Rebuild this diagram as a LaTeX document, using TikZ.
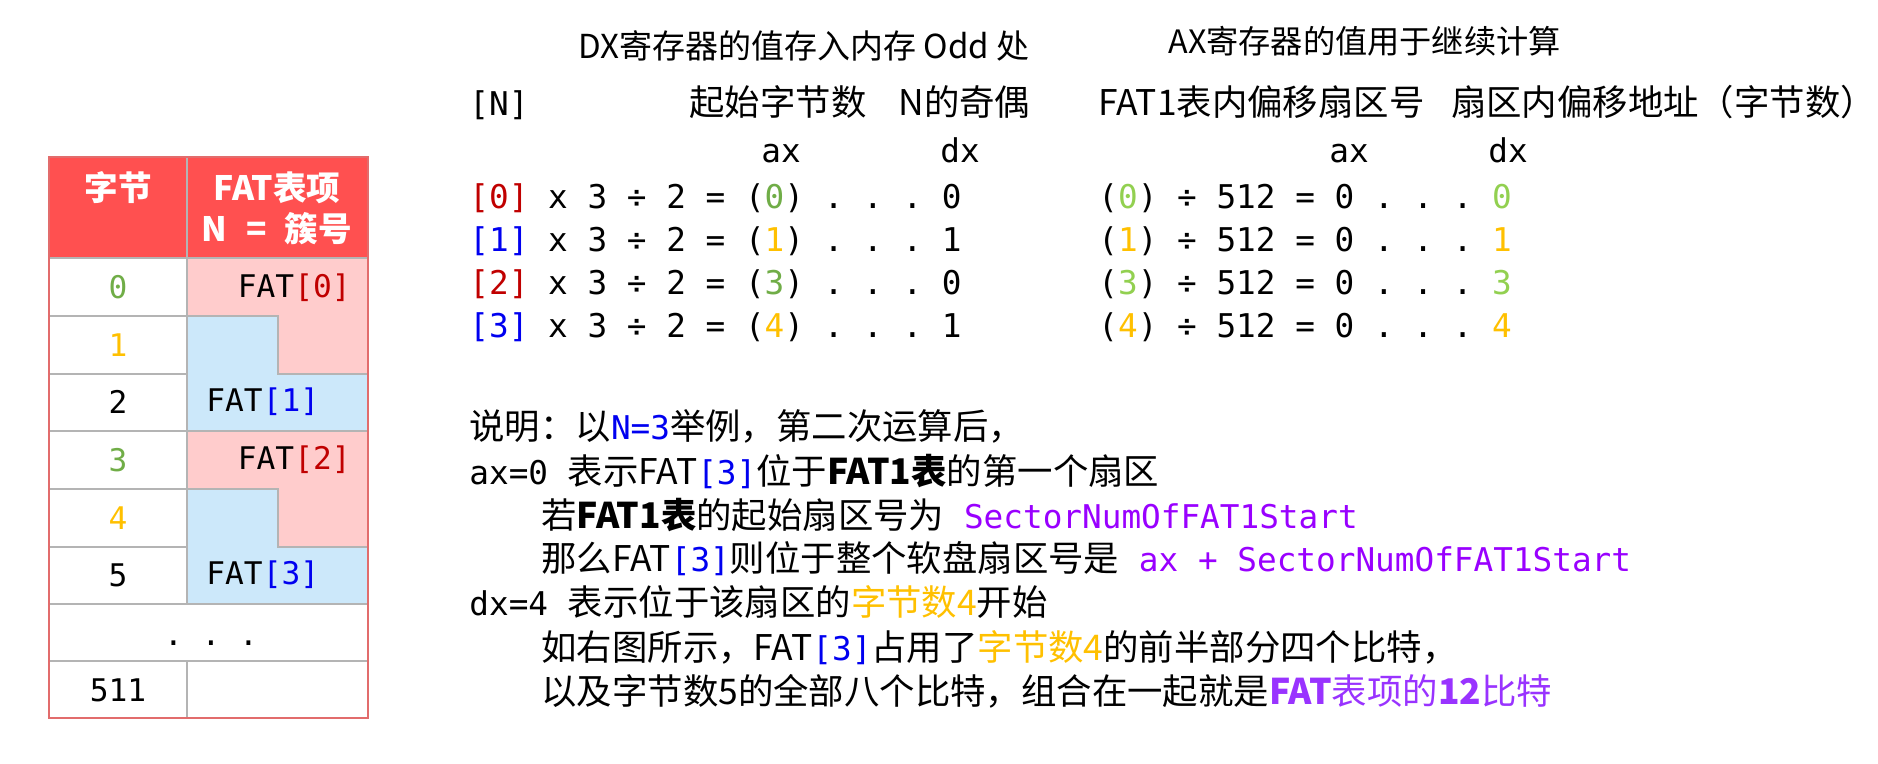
\documentclass[tikz,border=0pt]{standalone}
\usepackage{fontspec}
\setmainfont{Noto Sans CJK SC}
\setmonofont{DejaVu Sans Mono}
\definecolor{hdrcol}{RGB}{255, 80, 80}
\definecolor{pinkcol}{RGB}{255, 204, 204}
\definecolor{bluecol}{RGB}{204, 232, 250}
\definecolor{gridcol}{RGB}{180, 180, 180}
\definecolor{edgecol}{RGB}{226, 108, 108}
\definecolor{oddred}{RGB}{192, 0, 0}
\definecolor{evenblue}{RGB}{0, 0, 240}
\definecolor{grncol}{RGB}{112, 173, 71}
\definecolor{lgrncol}{RGB}{146, 208, 80}
\definecolor{goldcol}{RGB}{255, 192, 0}
\definecolor{purpcol}{RGB}{153, 0, 255}
\definecolor{lpurpcol}{RGB}{153, 51, 255}
\newcommand\tcode[1]{{\ttfamily\fontsize{16.35}{20}\selectfont #1}}
\tikzset{
  gridln/.style  = {draw=gridcol, line width=1.2pt},
  pinkbox/.style = {gridln, fill=pinkcol},
  bluebox/.style = {gridln, fill=bluecol},
  edge/.style    = {draw=edgecol, line width=1.2pt},
  hdrtxt/.style  = {text=white, inner sep=0pt,
                    font=\bfseries\fontsize{16.8}{20}\selectfont},
  cellnum/.style = {inner sep=0pt, font=\ttfamily\fontsize{15.6}{19}\selectfont},
  ttl/.style     = {anchor=base west, inner sep=0pt,
                    font=\fontsize{16.5}{21}\selectfont},
  cjk/.style     = {anchor=base west, inner sep=0pt,
                    font=\fontsize{17.7}{21}\selectfont},
  code/.style    = {anchor=base west, inner sep=0pt,
                    font=\ttfamily\fontsize{16.35}{20}\selectfont},
}

\begin{document}
\begin{tikzpicture}[x=0.5pt, y=-0.5pt]
  \useasboundingbox (0,0) rectangle (1878,764);

  %% ---------------- the FAT table ----------------
  \fill[hdrcol] (49,157) rectangle (368,258);
  \foreach \dy in {0,173} {
    \begin{scope}[shift={(0,\dy)}]
      \path[pinkbox] (187,258) -- (368,258) -- (368,374) -- (278,374)
                     -- (278,316) -- (187,316) -- cycle;
      \path[bluebox] (187,316) -- (278,316) -- (278,374) -- (368,374)
                     -- (368,431) -- (187,431) -- cycle;
    \end{scope}
  }
  \foreach \t in {258,316,374,431,489,547,604,661}
    \draw[gridln] (49,\t) -- (187,\t);
  \draw[gridln] (187,604) -- (368,604);
  \draw[gridln] (187,661) -- (368,661);
  \draw[gridln] (187,157) -- (187,604);
  \draw[gridln] (187,661) -- (187,718);
  \draw[edge] (49,157) rectangle (368,718);

  \node[hdrtxt] (hbyte) at (118,188) {字节};
  \node[hdrtxt] (hfat)  at (277,188) {FAT表项};
  \node[hdrtxt] (hclu)  at (277,229) {N\hspace{.55em}=\hspace{.55em}簇号};

  \foreach \v/\c/\y in {0/grncol/287, 1/goldcol/345, 2/black/402,
                        3/grncol/460, 4/goldcol/518, 5/black/575}
    \node[cellnum, text=\c] (b\v) at (118,\y) {\v};
  \node[cellnum, anchor=base] (bdots) at (211,645) {. . .};
  \node[cellnum] (b511) at (118,690) {511};

  \node[cellnum, anchor=east] (fat0) at (351,288) {FAT\textcolor{oddred}{[0]}};
  \node[cellnum, anchor=west] (fat1) at (206,402) {FAT\textcolor{evenblue}{[1]}};
  \node[cellnum, anchor=east] (fat2) at (351,460) {FAT\textcolor{oddred}{[2]}};
  \node[cellnum, anchor=west] (fat3) at (206,575) {FAT\textcolor{evenblue}{[3]}};

  %% ---------------- the two divisions ----------------
  \node[ttl] (dxttl) at (578,59) {DX寄存器的值存入内存 Odd 处};
  \node[ttl, font=\fontsize{16.1}{21}\selectfont] (axttl) at (1168,54)
       {AX寄存器的值用于继续计算};

  \node[code] (nhd)   at (469,116)  {[N]};
  \node[cjk]  (offhd) at (689,116)  {起始字节数};
  \node[cjk]  (parhd) at (898,116)  {N的奇偶};
  \node[cjk]  (sechd) at (1098,116)
       {FAT1表内偏移扇区号\hspace{.75em}扇区内偏移地址（字节数）};

  \node[code, anchor=base] (axl) at (781,163)  {ax};
  \node[code, anchor=base] (dxl) at (960,163)  {dx};
  \node[code, anchor=base] (axr) at (1349,163) {ax};
  \node[code, anchor=base] (dxr) at (1508,163) {dx};

  \foreach \n/\nc/\a/\ac/\d [count=\i] in {0/oddred/0/grncol/0,
      1/evenblue/1/goldcol/1, 2/oddred/3/grncol/0, 3/evenblue/4/goldcol/1}
    \node[code] (mul\i) at (469,{209+43*(\i-1)})
         {\textcolor{\nc}{[\n]} x 3 ÷ 2 = (\textcolor{\ac}{\a}) . . . \d};

  \foreach \a/\c [count=\i] in {0/lgrncol, 1/goldcol, 3/lgrncol, 4/goldcol}
    \node[code] (div\i) at (1098,{209+43*(\i-1)})
         {(\textcolor{\c}{\a}) ÷ 512 = 0 . . . \textcolor{\c}{\a}};

  %% ---------------- the note ----------------
  \node[cjk] (note1) at (469,439)
       {说明：以\tcode{\textcolor{evenblue}{N=3}}举例，第二次运算后，};
  \node[cjk] (note2) at (469,484)
       {\tcode{ax=0 }表示FAT\tcode{\textcolor{evenblue}{[3]}}位于\textbf{FAT1表}的第一个扇区};
  \node[cjk] (note3) at (541,528)
       {若\textbf{FAT1表}的起始扇区号为\tcode{ \textcolor{purpcol}{SectorNumOfFAT1Start}}};
  \node[cjk] (note4) at (541,571)
       {那么FAT\tcode{\textcolor{evenblue}{[3]}}则位于整个软盘扇区号是\tcode{ \textcolor{purpcol}{ax + SectorNumOfFAT1Start}}};
  \node[cjk] (note5) at (469,615)
       {\tcode{dx=4 }表示位于该扇区的\textcolor{goldcol}{字节数4}开始};
  \node[cjk] (note6) at (541,660)
       {如右图所示，FAT\tcode{\textcolor{evenblue}{[3]}}占用了\textcolor{goldcol}{字节数4}的前半部分四个比特，};
  \node[cjk] (note7) at (541,704)
       {以及字节数5的全部八个比特，组合在一起就是\textcolor{lpurpcol}{\textbf{FAT}表项的\textbf{12}比特}};

\end{tikzpicture}
\end{document}
